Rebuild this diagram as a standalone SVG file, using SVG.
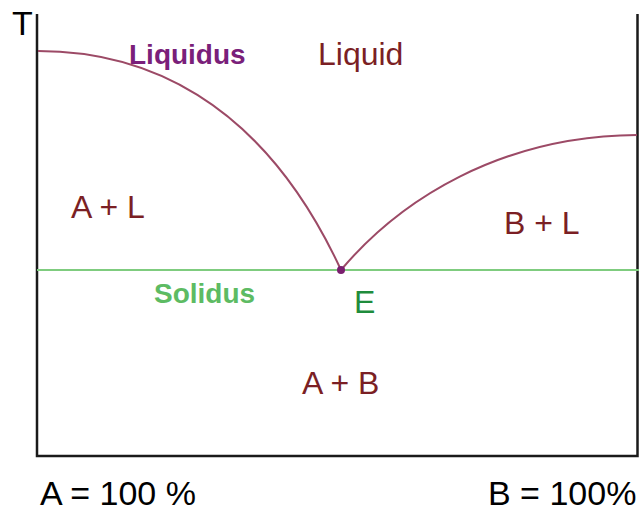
<svg xmlns="http://www.w3.org/2000/svg" width="639" height="511" viewBox="0 0 639 511">
<style>
text{font-family:"Liberation Sans",Arial,sans-serif}
.lbl{fill:#7b1f24;font-size:32px}
.ax{fill:#000;font-size:34px}
.curve{fill:none;stroke:#9c4a66;stroke-width:2}
</style>
<rect width="639" height="511" fill="#fff"/>
<g id="axes" fill="none" stroke="#1a1a1a" stroke-width="2.5">
<polyline points="37,14 37,456 637.5,456 637.5,14"/>
</g>
<g id="connectors">
<line x1="37" y1="270" x2="639" y2="270" stroke="#7fcc7f" stroke-width="2"/>
<path class="curve" d="M38,51 C140,51 260,95 341,270"/>
<path class="curve" d="M341,270 C400,200 500,136 637,135"/>
</g>
<g id="E-point"><circle cx="341" cy="270" r="4" fill="#7a1f6e"/></g>
<g id="labels">
<text x="12" y="35" class="ax" font-size="31">T</text>
<text x="129" y="64" fill="#7a1f7a" font-size="28" font-weight="bold">Liquidus</text>
<text x="318" y="65" class="lbl" font-size="31">Liquid</text>
<text x="71" y="218" class="lbl">A + L</text>
<text x="504" y="234" class="lbl">B + L</text>
<text x="154" y="303" fill="#5dbb63" font-size="28" font-weight="bold">Solidus</text>
<text x="354" y="313" fill="#1e8c3c" font-size="32">E</text>
<text x="302" y="394" class="lbl">A + B</text>
<text x="40" y="505" class="ax">A = 100 %</text>
<text x="488" y="505" class="ax">B = 100%</text>
</g>
</svg>
